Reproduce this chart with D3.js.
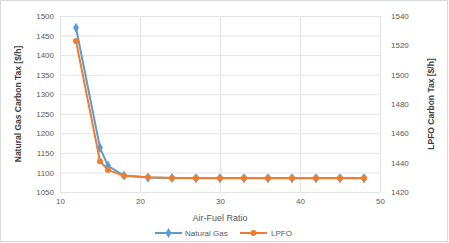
<!DOCTYPE html>
<html>
<head>
<meta charset="utf-8">
<style>
  body { margin: 0; background: #fff; }
  svg { font-family: "Liberation Sans", Arial, sans-serif; }
  .tick text { fill: #595959; font-size: 8px; }
  .axis path, .axis line { stroke: none; }
</style>
</head>
<body>
<svg width="449" height="243"></svg>
<script src="https://d3js.org/d3.v7.min.js"></script>
<script>
  var afr = [12, 15, 16, 18, 21, 24, 27, 30, 33, 36, 39, 42, 45, 48];
  var natGas = [1470, 1163, 1117, 1092, 1087, 1086, 1085, 1085, 1085, 1085, 1085, 1085, 1085, 1085];
  var lpfo = [1523, 1441, 1435, 1431, 1430, 1429.5, 1429.5, 1429.5, 1429.5, 1429.5, 1429.5, 1429.5, 1429.5, 1429.5];
  var xTicks = [10, 20, 30, 40, 50];
  var leftTicks = [1050, 1100, 1150, 1200, 1250, 1300, 1350, 1400, 1450, 1500];
  var rightTicks = [1420, 1440, 1460, 1480, 1500, 1520, 1540];

  var svg = d3.select("svg");
  var blue = "#5b9bd5", orange = "#ed7d31";

  svg.append("rect").attr("x", 0.5).attr("y", 0.5).attr("width", 447).attr("height", 241)
    .attr("fill", "#fff").attr("stroke", "#d9d9d9");

  var x = d3.scaleLinear().domain([10, 50]).range([60, 380]);
  var yL = d3.scaleLinear().domain([1050, 1500]).range([192, 16]);
  var yR = d3.scaleLinear().domain([1420, 1540]).range([192, 16]);

  // grid
  svg.append("g").selectAll("line").data(leftTicks).enter().append("line")
    .attr("x1", 60).attr("x2", 380)
    .attr("y1", function(d) { return yL(d) + 0.5; }).attr("y2", function(d) { return yL(d) + 0.5; })
    .attr("stroke", "#e4e4e4");
  svg.append("g").selectAll("line").data(xTicks).enter().append("line")
    .attr("y1", 16).attr("y2", 192)
    .attr("x1", function(d) { return x(d) + 0.5; }).attr("x2", function(d) { return x(d) + 0.5; })
    .attr("stroke", "#e4e4e4");

  svg.append("g").attr("class", "axis").attr("transform", "translate(0,194)")
    .call(d3.axisBottom(x).tickValues(xTicks).tickSize(0).tickPadding(4));
  svg.append("g").attr("class", "axis").attr("transform", "translate(58,0)")
    .call(d3.axisLeft(yL).tickValues(leftTicks).tickFormat(d3.format("d")).tickSize(0).tickPadding(4));
  svg.append("g").attr("class", "axis").attr("transform", "translate(383,0)")
    .call(d3.axisRight(yR).tickValues(rightTicks).tickFormat(d3.format("d")).tickSize(0).tickPadding(8));

  svg.append("text").attr("x", 220).attr("y", 221).attr("text-anchor", "middle")
    .attr("fill", "#595959").attr("font-size", 9).text("Air-Fuel Ratio");
  svg.append("text").attr("transform", "translate(21,104) rotate(-90)").attr("text-anchor", "middle")
    .attr("fill", "#404040").attr("font-size", 8.5).attr("font-weight", "bold").text("Natural Gas Carbon Tax [$/h]");
  svg.append("text").attr("transform", "translate(434,104) rotate(-90)").attr("text-anchor", "middle")
    .attr("fill", "#404040").attr("font-size", 8.5).attr("font-weight", "bold").text("LPFO Carbon Tax [$/h]");

  var ngData = afr.map(function(a, i) { return [a, natGas[i]]; });
  var lpData = afr.map(function(a, i) { return [a, lpfo[i]]; });

  svg.append("path").datum(ngData).attr("fill", "none").attr("stroke", blue).attr("stroke-width", 2)
    .attr("d", d3.line().x(function(d) { return x(d[0]); }).y(function(d) { return yL(d[1]); }));
  svg.append("g").selectAll("path").data(ngData).enter().append("path")
    .attr("transform", function(d) { return "translate(" + x(d[0]) + "," + yL(d[1]) + ")"; })
    .attr("d", d3.symbol().type(d3.symbolDiamond).size(30)).attr("fill", blue);

  svg.append("path").datum(lpData).attr("fill", "none").attr("stroke", orange).attr("stroke-width", 2)
    .attr("d", d3.line().x(function(d) { return x(d[0]); }).y(function(d) { return yR(d[1]); }));
  svg.append("g").selectAll("circle").data(lpData).enter().append("circle")
    .attr("cx", function(d) { return x(d[0]); }).attr("cy", function(d) { return yR(d[1]); })
    .attr("r", 3).attr("fill", orange);

  // legend
  var leg = svg.append("g").attr("transform", "translate(0,233)");
  leg.append("line").attr("x1", 155).attr("x2", 182).attr("stroke", blue).attr("stroke-width", 2);
  leg.append("path").attr("transform", "translate(168.5,0)").attr("d", d3.symbol().type(d3.symbolDiamond).size(30)).attr("fill", blue);
  leg.append("text").attr("x", 185).attr("y", 3).attr("fill", "#595959").attr("font-size", 8).text("Natural Gas");
  leg.append("line").attr("x1", 240).attr("x2", 267).attr("stroke", orange).attr("stroke-width", 2);
  leg.append("circle").attr("cx", 253.5).attr("r", 3).attr("fill", orange);
  leg.append("text").attr("x", 271).attr("y", 3).attr("fill", "#595959").attr("font-size", 8).text("LPFO");
</script>
</body>
</html>
